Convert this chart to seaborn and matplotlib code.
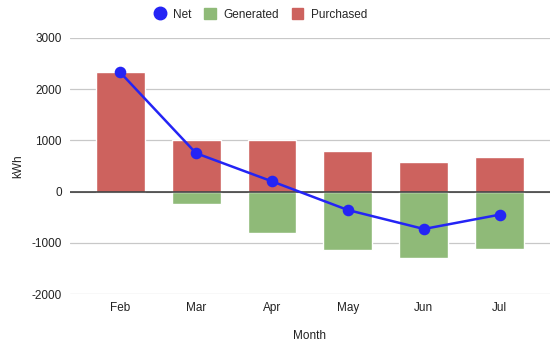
import numpy as np
import pandas as pd
import matplotlib
matplotlib.use("Agg")
import matplotlib.pyplot as plt
from matplotlib.lines import Line2D
from matplotlib.patches import Patch
import seaborn as sns

# data
months = ["Feb", "Mar", "Apr", "May", "Jun", "Jul"]
purchased = [2330, 1000, 1000, 790, 570, 670]
generated = [0, -250, -800, -1150, -1300, -1120]
net = [2330, 750, 200, -360, -730, -450]
y_ticks = [-2000, -1000, 0, 1000, 2000, 3000]

c_purch = "#cd625e"
c_gen = "#8fba78"
c_net = "#2424f5"

sns.set_theme(style="white")
plt.rcParams["font.family"] = ["Liberation Sans", "DejaVu Sans"]
plt.rcParams["axes.unicode_minus"] = False

fig = plt.figure(figsize=(5.6, 3.47), dpi=100)
ax = fig.add_axes([0.125, 0.1527, 0.857, 0.7378])

df = pd.DataFrame({"Month": months, "Purchased": purchased,
                   "Generated": generated, "Net": net})

# bars both start at zero, so no stacking needed
sns.barplot(data=df, x="Month", y="Purchased", color=c_purch, width=0.645,
            saturation=1, ax=ax, zorder=2)
sns.barplot(data=df, x="Month", y="Generated", color=c_gen, width=0.645,
            saturation=1, ax=ax, zorder=2)
sns.pointplot(data=df, x="Month", y="Net", color=c_net, markers="o",
              markersize=7, linewidth=1.8, ax=ax, zorder=4)

ax.set_ylim(-2000, 3000)
ax.set_xlim(-0.66, 5.66)
ax.set_yticks(y_ticks)
ax.yaxis.grid(True, color="#c8c8c8", linewidth=0.9, zorder=0)
ax.axhline(0, color="#333333", linewidth=1.1, zorder=3)
for s in ax.spines.values():
    s.set_visible(False)
ax.tick_params(axis="both", length=0, labelsize=8.5, colors="#222222", pad=6)
ax.set_xlabel("Month", fontsize=8.5, labelpad=11, color="#222222")
ax.set_ylabel("kWh", fontsize=8.5, labelpad=5, color="#222222")

handles = [
    Line2D([], [], marker="o", linestyle="", color=c_net, markersize=9),
    Patch(color=c_gen),
    Patch(color=c_purch),
]
fig.legend(handles, ["Net", "Generated", "Purchased"], loc="center",
           bbox_to_anchor=(0.465, 0.958), ncol=3, frameon=False, fontsize=8.5,
           handlelength=1.0, handleheight=1.0, handletextpad=0.6,
           columnspacing=1.1)

fig.savefig("out.png", dpi=100)
